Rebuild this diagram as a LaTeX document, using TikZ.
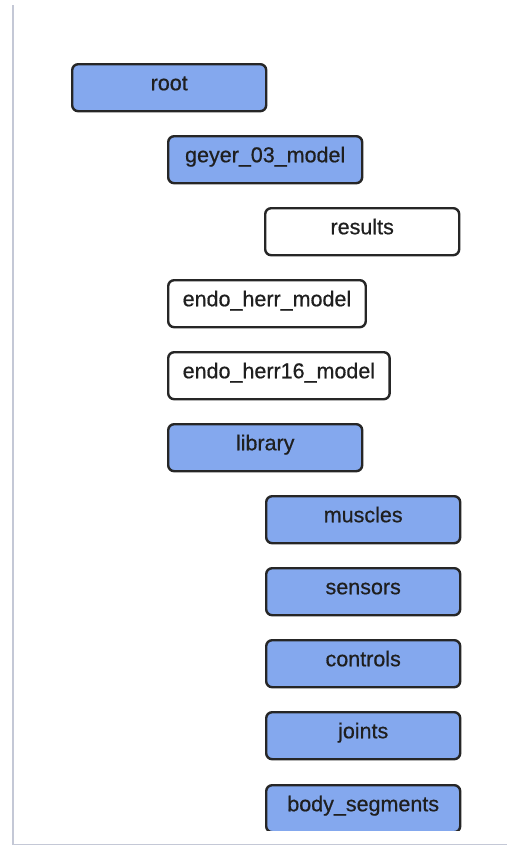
\documentclass[tikz,border=0pt]{standalone}
\usepackage{fontspec}
\setmainfont{Liberation Sans}
\newfontfamily\labelfont[FakeBold=0.6]{Liberation Sans}
\definecolor{folderblue}{HTML}{84A8EE}
\definecolor{edgegray}{HTML}{262626}
\definecolor{rulegray}{HTML}{C4C8D6}
\tikzset{
  dirbox/.style={draw=edgegray, line width=2.4pt, rounded corners=6pt,
    anchor=north west, minimum width=194pt, minimum height=47pt,
    inner xsep=14.5pt, text height=0.72em, text depth=0.21em,
    font=\labelfont\fontsize{21.5}{24}\selectfont, text=black!88},
  pkg/.style={dirbox, fill=folderblue},
  plain/.style={dirbox, fill=white}
}
\begin{document}
\begin{tikzpicture}[x=1pt, y=-1pt]
  \useasboundingbox (0,0) rectangle (507,846);
  \fill[white] (0,0) rectangle (507,846);
  % page edges
  \draw[rulegray, line width=2pt] (13,5) -- (13,845);
  \draw[rulegray, line width=1.5pt] (13,844.5) -- (507,844.5);
  \begin{scope}
    \clip (0,0) rectangle (507,830);
    \node[pkg]   (root)     at (71,63)    {root};
    \node[pkg]   (geyer)    at (167,135)  {geyer\_03\_model};
    \node[plain] (results)  at (264,207)  {results};
    \node[plain] (endo)     at (167,279)  {endo\_herr\_model};
    \node[plain] (endosixt) at (167,351)  {endo\_herr16\_model};
    \node[pkg]   (library)  at (167,423)  {library};
    \node[pkg]   (muscles)  at (265,495)  {muscles};
    \node[pkg]   (sensors)  at (265,567)  {sensors};
    \node[pkg]   (controls) at (265,639)  {controls};
    \node[pkg]   (joints)   at (265,711)  {joints};
    \node[pkg]   (body)     at (265,784)  {body\_segments};
  \end{scope}
\end{tikzpicture}
\end{document}
